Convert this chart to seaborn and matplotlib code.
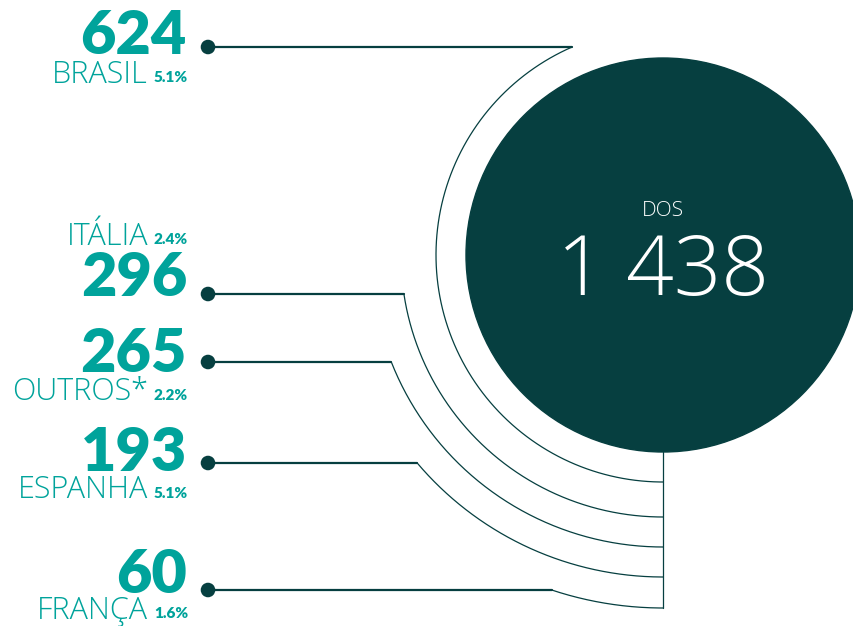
import numpy as np
import pandas as pd
import seaborn as sns
import matplotlib.pyplot as plt
from matplotlib.patches import Circle

# dados
paises = ['BRASIL', 'ITÁLIA', 'OUTROS*', 'ESPANHA', 'FRANÇA']
valores = [624, 296, 265, 193, 60]
percentuais = ['5.1%', '2.4%', '2.2%', '5.1%', '1.6%']
total_label = 'DOS'
total = '1 438'

# layout (pixels, y para baixo)
linha_y = [47, 294, 362, 463, 590]
num_y = [36, 278, 354, 453, 575]
nome_y = [75, 237, 392, 490, 611]
raio_arco = [227, 262, 292, 322, 353]
cx, cy, r_circ = 663, 255, 197
dot_x = 208

escuro = '#063F40'
teal = '#00A39B'

sns.set_theme(style='white')
plt.rcParams['font.family'] = ['Lato', 'DejaVu Sans']

fig = plt.figure(figsize=(8.54, 6.26), dpi=100)
ax = fig.add_axes([0, 0, 1, 1])
ax.set_xlim(0, 854)
ax.set_ylim(626, 0)
ax.axis('off')

ax.add_patch(Circle((cx, cy), r_circ, color=escuro, zorder=1))

for y, r in zip(linha_y, raio_arco):
    dy = y - cy
    dx = -np.sqrt(r**2 - dy**2)
    ax.plot([dot_x, cx + dx], [y, y], color=escuro, lw=1.6, zorder=2)
    t0 = np.degrees(np.arctan2(dy, dx)) % 360
    t = np.radians(np.linspace(t0, 90, 200))
    ax.plot(cx + r * np.cos(t), cy + r * np.sin(t), color=escuro, lw=0.9, zorder=2)

ax.plot([cx, cx], [cy + r_circ, cy + raio_arco[-1]], color=escuro, lw=0.9, zorder=2)

df = pd.DataFrame({'x': [dot_x] * len(linha_y), 'y': linha_y})
sns.scatterplot(data=df, x='x', y='y', s=110, color=escuro, edgecolor='none',
                ax=ax, zorder=3, legend=False)
ax.set_ylim(626, 0)
ax.axis('off')

for v, p, pc, yn, ym in zip(valores, paises, percentuais, num_y, nome_y):
    ax.text(187, yn, str(v), ha='right', va='center', color=teal,
            fontsize=44, fontweight='heavy')
    ax.text(148, ym, p, ha='right', va='center', color=teal,
            fontsize=22, fontweight='light', family='Open Sans')
    ax.text(154, ym + 3, pc, ha='left', va='center', color=teal,
            fontsize=11, fontweight='heavy')

ax.text(cx, 211, total_label, ha='center', va='center', color='white',
        fontsize=15, fontweight='light', family='Open Sans')
ax.text(cx, 274, total, ha='center', va='center', color='white',
        fontsize=60, fontweight='light', family='Open Sans')

fig.savefig('out.png', dpi=100)
